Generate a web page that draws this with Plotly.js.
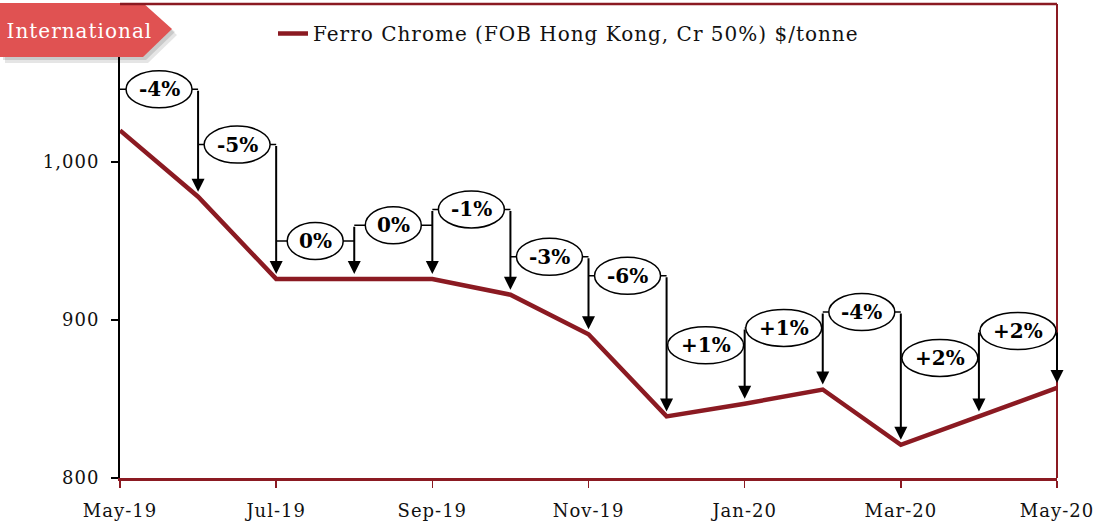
<!DOCTYPE html>
<html><head><meta charset="utf-8">
<script src="https://cdn.plot.ly/plotly-3.0.1.min.js"></script>
<style>
html,body{margin:0;padding:0;background:#fff}
.xtick text, .ytick text {letter-spacing:1px}
.legendtext {letter-spacing:1px}
.annotation.badge text {letter-spacing:1px}
</style>
</head><body>
<div id="chart" style="width:1097px;height:523px"></div>
<script>
// ---- data ----
const months = ['May-19','Jun-19','Jul-19','Aug-19','Sep-19','Oct-19','Nov-19','Dec-19','Jan-20','Feb-20','Mar-20','Apr-20','May-20'];
const prices = [1020, 978, 926, 926, 926, 916, 891, 839, 847, 856, 821, 839, 857];
const changeLabels = ['-4%','-5%','0%','0%','-1%','-3%','-6%','+1%','+1%','-4%','+2%','+2%'];
const bracketLevels = [1046, 1011, 950, 960, 970, 940, 928, 884, 895, 905, 876, 893];
const yTicks = [800, 900, 1000, 1100];
const seriesName = 'Ferro Chrome (FOB Hong Kong, Cr 50%) $/tonne';
const badgeText = 'International';

// ---- styles ----
const W = 1097, H = 523;
const M = {l: 120, r: 40, t: 4, b: 45};
const PW = W - M.l - M.r, PH = H - M.t - M.b;
const px2x = p => (p - M.l) / PW;
const px2y = p => (H - M.b - p) / PH;
const DARK = '#8B1A22';
const BADGE = '#E05252';
const FONT = 'DejaVu Serif, Georgia, serif';

const xIdx = months.map((_, i) => i);
const tickIdx = xIdx.filter(i => i % 2 === 0);

const shapes = [];
const annotations = [];

// badge shadow + badge
const badgePts = [[0,3],[143,3],[172,29],[143,57],[0,57]];
const toPath = (pts, dx, dy) => 'M' + pts.map(p => px2x(p[0]+dx) + ',' + px2y(p[1]+dy)).join('L') + 'Z';
shapes.push({type:'path', xref:'paper', yref:'paper', path: toPath(badgePts, 5, 6), fillcolor:'rgba(0,0,0,0.10)', line:{width:0}, layer:'above'});
shapes.push({type:'path', xref:'paper', yref:'paper', path: toPath(badgePts, 3, 3), fillcolor:'rgba(0,0,0,0.12)', line:{width:0}, layer:'above'});
shapes.push({type:'path', xref:'paper', yref:'paper', path: toPath(badgePts, 0, 0), fillcolor:BADGE, line:{width:0}, layer:'above'});
annotations.push({xref:'paper', yref:'paper', x: px2x(79), y: px2y(31), text: badgeText, showarrow:false,
  font:{family:FONT, size:20, color:'#ffffff'}, xanchor:'center', yanchor:'middle', name:'badge'});

// frame: top and right borders
shapes.push({type:'line', xref:'paper', yref:'paper', x0:0, x1:1, y0:1, y1:1, line:{color:DARK, width:2.5}});
shapes.push({type:'line', xref:'paper', yref:'paper', x0:1, x1:1, y0:0, y1:1, line:{color:DARK, width:2}});

// bracket connectors
changeLabels.forEach((lab, i) => {
  shapes.push({type:'line', xref:'x', yref:'y', x0:xIdx[i], x1:xIdx[i+1], y0:bracketLevels[i], y1:bracketLevels[i], line:{color:'#000', width:1.5}});
});
// ellipses, labels, arrows
changeLabels.forEach((lab, i) => {
  const w = 56 + (lab[0] === '+' ? 20 : lab[0] === '-' ? 10 : 0);
  const h = 37;
  shapes.push({type:'circle', xref:'x', yref:'y', xsizemode:'pixel', ysizemode:'pixel',
    xanchor:(xIdx[i]+xIdx[i+1])/2, yanchor:bracketLevels[i],
    x0:-w/2, x1:w/2, y0:-h/2, y1:h/2, fillcolor:'#fff', line:{color:'#000', width:1.5}});
  annotations.push({xref:'x', yref:'y', x:(xIdx[i]+xIdx[i+1])/2, y:bracketLevels[i], text:lab, showarrow:false,
    font:{family:FONT, size:20, color:'#000', weight:'bold'}, xanchor:'center', yanchor:'middle'});
  const tail = (i + 1 < changeLabels.length) ? Math.max(bracketLevels[i], bracketLevels[i+1]) : bracketLevels[i];
  annotations.push({xref:'x', yref:'y', axref:'x', ayref:'y', x:xIdx[i+1], y:prices[i+1], ax:xIdx[i+1], ay:tail,
    text:'', showarrow:true, arrowhead:2, arrowsize:1.3, arrowwidth:2, arrowcolor:'#000', standoff:5});
});

const trace = {x: xIdx, y: prices, type:'scatter', mode:'lines', name: seriesName,
  line:{color:DARK, width:4.5}, cliponaxis:false};

const layout = {
  width: W, height: H, margin: M, paper_bgcolor:'#fff', plot_bgcolor:'#fff',
  showlegend: true,
  legend: {x: px2x(273), y: px2y(14), xanchor:'left', yanchor:'top', bgcolor:'rgba(0,0,0,0)',
    font:{family:FONT, size:20, color:'#111'}, itemwidth:30},
  xaxis: {range:[0, 12], tickmode:'array', tickvals: tickIdx, ticktext: tickIdx.map(i => months[i]),
    showgrid:false, zeroline:false, showline:true, linecolor:DARK, linewidth:2.5,
    ticks:'outside', ticklen:7, tickwidth:1.5, tickcolor:DARK, ticklabelstandoff:8,
    tickfont:{family:FONT, size:18, color:'#111'}},
  yaxis: {range:[800, 1100], tickmode:'array', tickvals: yTicks, tickformat:',d',
    showgrid:false, zeroline:false, showline:true, linecolor:'#000', linewidth:2,
    ticks:'outside', ticklen:7, tickwidth:1.5, tickcolor:'#000', ticklabelstandoff:8,
    tickfont:{family:FONT, size:18, color:'#111'}},
  shapes: shapes,
  annotations: annotations
};
Plotly.newPlot('chart', [trace], layout, {displayModeBar:false, staticPlot:true}).then(() => {
  document.querySelectorAll('.annotation').forEach(a => {
    const t = a.querySelector('text');
    if (t && t.textContent === badgeText) t.style.letterSpacing = '1px';
  });
});
</script>
</body></html>
